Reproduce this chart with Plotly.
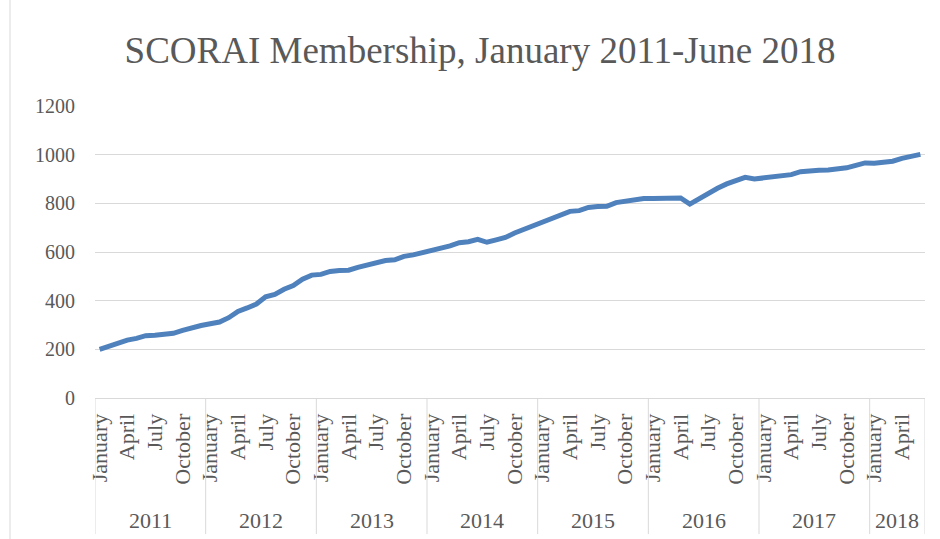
import plotly.graph_objects as go

# ---- data ----
years = [2011, 2012, 2013, 2014, 2015, 2016, 2017, 2018]
month_names = ["January", "February", "March", "April", "May", "June",
               "July", "August", "September", "October", "November", "December"]
shown_months = ["January", "April", "July", "October"]

members_2011 = [200, 213, 230, 238, 245, 256, 258, 262, 266, 278, 290, 298]
members_2012 = [305, 312, 330, 356, 370, 386, 416, 426, 447, 462, 488, 505]
members_2013 = [508, 520, 524, 525, 537, 548, 558, 565, 568, 582, 588, 597]
members_2014 = [605, 614, 625, 638, 642, 652, 640, 650, 660, 678, 693, 708]
members_2015 = [722, 742, 752, 767, 770, 783, 787, 788, 803, 810, 818, 820]
members_2016 = [820, 820, 822, 822, 797, 820, 840, 862, 880, 895, 907, 900]
members_2017 = [905, 907, 912, 918, 930, 935, 936, 937, 940, 946, 956, 966]
members_2018 = [965, 968, 973, 985, 995, 1001]

y_ticks = [0, 200, 400, 600, 800, 1000, 1200]

series = [members_2011, members_2012, members_2013, members_2014,
          members_2015, members_2016, members_2017, members_2018]

values, cat_year, cat_month = [], [], []
for yr, vals in zip(years, series):
    for m, v in enumerate(vals):
        values.append(v)
        cat_year.append(yr)
        cat_month.append(month_names[m])

x = list(range(len(values)))
tickvals = [i for i, m in enumerate(cat_month) if m in shown_months]
ticktext = [cat_month[i] for i in tickvals]

# year group boundaries / centres
year_start = {}
year_end = {}
for i, yr in enumerate(cat_year):
    year_start.setdefault(yr, i)
    year_end[yr] = i
boundaries = [year_start[y] - 0.5 for y in years] + [year_end[years[-1]] + 0.5]
centres = [(year_start[y] + year_end[y]) / 2 for y in years]

TXT = "#595959"
GRID = "#d9d9d9"
FONT = "Liberation Serif"

fig = go.Figure()
fig.add_trace(go.Scatter(
    x=x, y=values, mode="lines",
    line=dict(color="#4F81BD", width=5),
    hoverinfo="y",
))

shapes = []
for b in boundaries:
    shapes.append(dict(type="line", xref="x", yref="paper",
                       x0=b, x1=b, y0=0, y1=-0.466,
                       line=dict(color=GRID, width=1)))
# chart-area border (left edge visible in the reference)
shapes.append(dict(type="line", xref="paper", yref="paper",
                   x0=-0.1024, x1=-0.1024, y0=-0.5, y1=1.4,
                   line=dict(color=GRID, width=1)))

annotations = [dict(x=c, y=-0.421, xref="x", yref="paper", text=str(y),
                    showarrow=False, yanchor="middle", xanchor="center",
                    font=dict(family=FONT, size=22, color=TXT))
               for c, y in zip(centres, years)]

fig.update_layout(
    width=940, height=539,
    paper_bgcolor="white", plot_bgcolor="white",
    margin=dict(l=95, r=15, t=106, b=141),
    showlegend=False,
    title=dict(text="SCORAI Membership, January 2011-June 2018",
               x=480 / 940, xanchor="center", xref="container",
               y=1 - 50 / 539, yanchor="middle", yref="container",
               font=dict(family=FONT, size=37, color=TXT)),
    xaxis=dict(range=[-0.5, len(values) - 0.5], tickmode="array",
               tickvals=tickvals, ticktext=ticktext, tickangle=-90,
               showgrid=False, zeroline=False, showline=True,
               linecolor=GRID, linewidth=1, ticks="",
               ticklabelstandoff=6,
               tickfont=dict(family=FONT, size=22, color=TXT)),
    yaxis=dict(range=[0, 1200], tickmode="array", tickvals=y_ticks,
               showgrid=True, gridcolor=GRID, gridwidth=1.3,
               zeroline=False, showline=False, ticks="",
               ticklabelstandoff=19,
               tickfont=dict(family=FONT, size=20, color=TXT)),
    shapes=shapes,
    annotations=annotations,
)

fig.write_html("out.html",
               config={"displayModeBar": False},
               post_script="document.body.style.margin='0px';"
                           "document.body.style.overflow='hidden';")
